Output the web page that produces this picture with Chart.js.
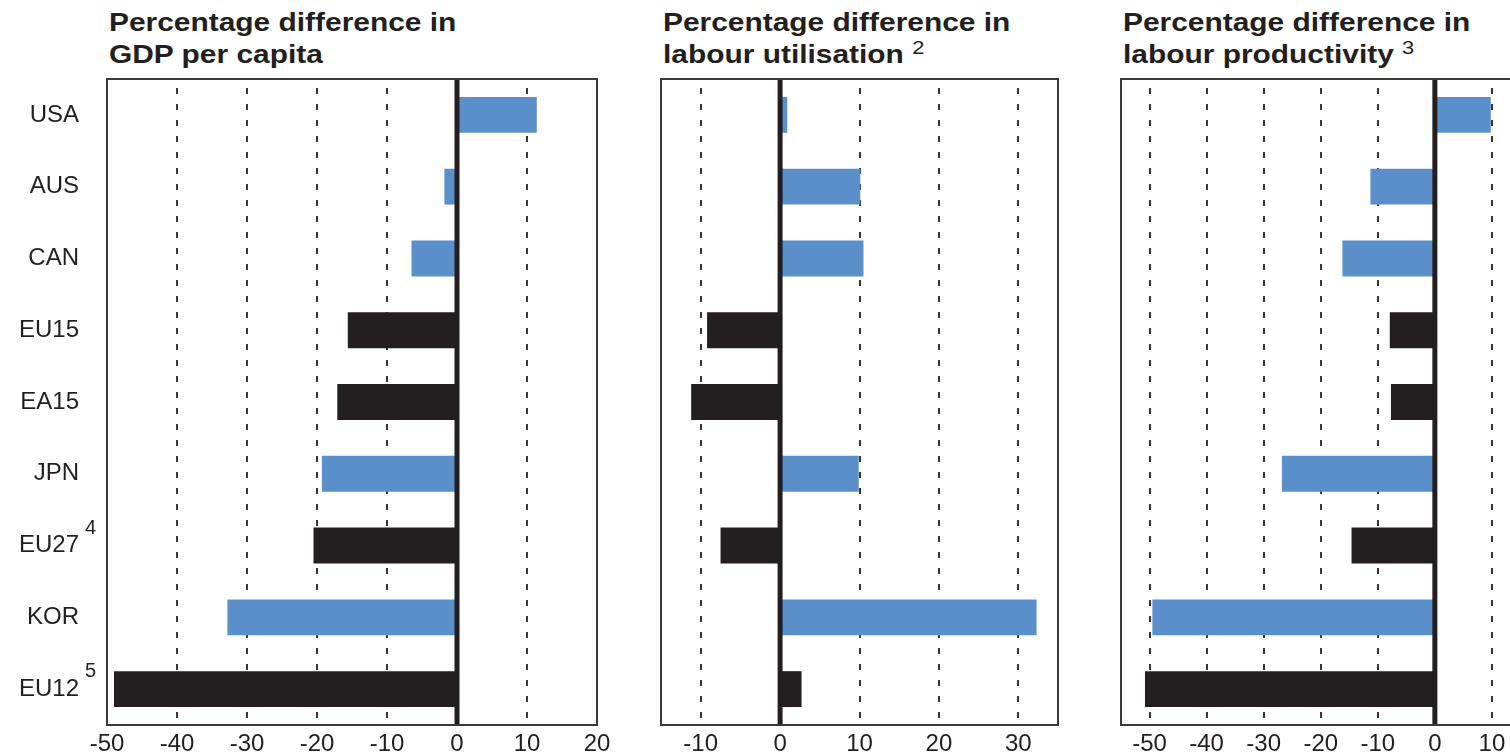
<!DOCTYPE html>
<html>
<head>
<meta charset="utf-8">
<script src="https://cdn.jsdelivr.net/npm/chart.js@4"></script>
<style>
  html, body { margin: 0; padding: 0; background: #fff; }
  body {
    width: 1510px; height: 756px; overflow: hidden; position: relative;
    font-family: 'Liberation Sans', Arial, Helvetica, sans-serif; color: #231f20;
  }
  .title {
    position: absolute; top: 6px;
    font-size: 26px; font-weight: bold; line-height: 32px; white-space: nowrap;
    transform: scaleX(1.15); transform-origin: 0 0;
  }
  .title sup {
    font-size: 19px; font-weight: normal;
    vertical-align: baseline; position: relative; top: -9px;
  }
  .panel { position: absolute; top: 70px; height: 686px; }
  .panel canvas { display: block; }
</style>
</head>
<body>
<div class="title" style="left:109px">Percentage difference in<br>GDP per capita</div>
<div class="title" style="left:663px">Percentage difference in<br>labour utilisation <sup>2</sup></div>
<div class="title" style="left:1123px">Percentage difference in<br>labour productivity <sup>3</sup></div>

<div class="panel" style="left:0;width:620px"><canvas id="gdpChart" width="620" height="686"></canvas></div>
<div class="panel" style="left:640px;width:440px"><canvas id="utilChart" width="440" height="686"></canvas></div>
<div class="panel" style="left:1100px;width:480px"><canvas id="prodChart" width="480" height="686"></canvas></div>

<script>
const countries = ['USA', 'AUS', 'CAN', 'EU15', 'EA15', 'JPN', 'EU27', 'KOR', 'EU12'];
const countryNotes = ['', '', '', '', '', '', '4', '', '5'];
const isAggregate = [false, false, false, true, true, false, true, false, true];

// percentage gaps
const gdpPerCapita = [11.4, -1.8, -6.5, -15.6, -17.1, -19.3, -20.5, -32.8, -49.0];
const labourUtilisation = [0.9, 10.1, 10.5, -9.2, -11.2, 9.9, -7.5, 32.3, 2.7];
const labourProductivity = [9.8, -11.3, -16.2, -7.9, -7.7, -26.8, -14.6, -49.5, -50.8];

const gdpTicks = [-50, -40, -30, -20, -10, 0, 10, 20];
const utilTicks = [-10, 0, 10, 20, 30];
const prodTicks = [-50, -40, -30, -20, -10, 0, 10, 20];

const BLUE = '#5b8fca';
const BLACK = '#231f20';
const FONT = "'Liberation Sans', Arial, Helvetica, sans-serif";
const barColors = isAggregate.map(a => a ? BLACK : BLUE);

// zero line on top of the bars, then the box around the plot
const frame = {
  id: 'frame',
  afterDatasetsDraw(chart) {
    const { ctx, chartArea: a } = chart;
    const x0 = chart.scales.x.getPixelForValue(0);
    ctx.save();
    ctx.strokeStyle = BLACK;
    ctx.lineWidth = 5;
    ctx.beginPath();
    ctx.moveTo(x0, a.top);
    ctx.lineTo(x0, a.bottom);
    ctx.stroke();
    ctx.strokeStyle = '#3a3a3a';
    ctx.lineWidth = 2;
    ctx.strokeRect(a.left, a.top, a.right - a.left, a.bottom - a.top);
    ctx.restore();
  }
};

// footnote numbers after some country names
const noteMarks = {
  id: 'noteMarks',
  afterDraw(chart) {
    const y = chart.scales.y;
    const ctx = chart.ctx;
    ctx.save();
    ctx.font = '20px ' + FONT;
    ctx.fillStyle = BLACK;
    ctx.textAlign = 'left';
    ctx.textBaseline = 'alphabetic';
    countryNotes.forEach((note, i) => {
      if (note) ctx.fillText(note, y.right - 22, y.getPixelForTick(i) - 12);
    });
    ctx.restore();
  }
};

function makePanel(id, values, min, max, ticks, pad, showNames) {
  return new Chart(document.getElementById(id), {
    type: 'bar',
    data: {
      labels: countries,
      datasets: [{
        data: values,
        backgroundColor: barColors,
        borderWidth: 0,
        categoryPercentage: 1,
        barPercentage: 0.5
      }]
    },
    options: {
      indexAxis: 'y',
      responsive: false,
      animation: false,
      layout: { padding: { top: 9, bottom: 0, left: pad.left, right: pad.right } },
      plugins: { legend: { display: false }, tooltip: { enabled: false } },
      scales: {
        x: {
          type: 'linear',
          min: min,
          max: max,
          afterBuildTicks: s => { s.ticks = ticks.map(v => ({ value: v })); },
          afterFit: s => { s.height = 31; s.paddingLeft = 0; s.paddingRight = 0; },
          grid: {
            drawTicks: false,
            lineWidth: 2,
            color: c => (c.tick && c.tick.value === 0) ? 'rgba(0,0,0,0)' : 'rgba(35,31,32,0.9)'
          },
          border: { display: false, dash: [6, 10], dashOffset: 7 },
          ticks: { padding: 5, color: BLACK, font: { family: FONT, size: 24 } }
        },
        y: {
          display: showNames,
          afterFit: s => {
            s.width = showNames ? 107 : 0;
            s.paddingTop = 0;
            s.paddingBottom = 0;
          },
          grid: { display: false, drawTicks: false },
          border: { display: false },
          ticks: { padding: 28, color: BLACK, font: { family: FONT, size: 24 } }
        }
      }
    },
    plugins: showNames ? [frame, noteMarks] : [frame]
  });
}

makePanel('gdpChart', gdpPerCapita, -50, 20, gdpTicks, { left: 0, right: 23 }, true);
makePanel('utilChart', labourUtilisation, -15, 35, utilTicks, { left: 21, right: 22 }, false);
makePanel('prodChart', labourProductivity, -55, 20, prodTicks, { left: 21, right: 31 }, false);
</script>
</body>
</html>
